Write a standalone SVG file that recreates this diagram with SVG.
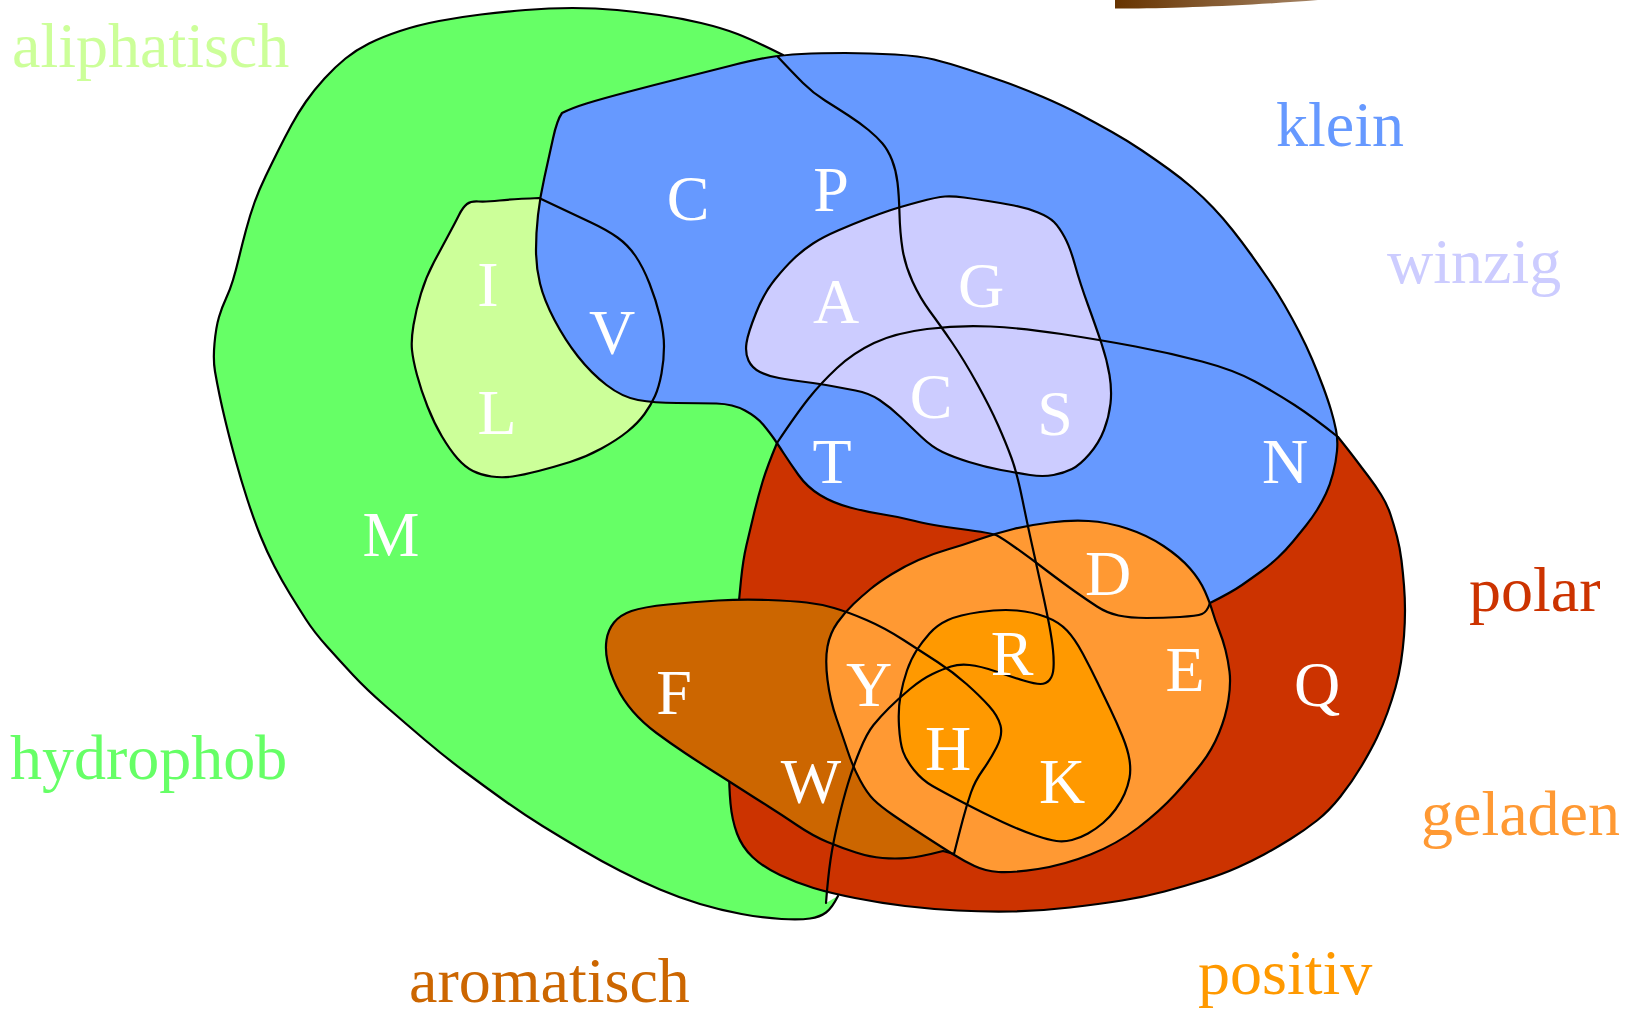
<svg xmlns="http://www.w3.org/2000/svg" width="1629" height="1009" viewBox="0 0 1629 1009">
  <defs>
    <style>
      .ln { fill: none; stroke: #000; stroke-width: 2.2; stroke-linejoin: round; stroke-linecap: round; }
      .lbl { font-family: "Liberation Serif", "Times New Roman", serif; font-size: 64px; }
      .aa { font-family: "Liberation Serif", "Times New Roman", serif; font-size: 64px; fill: #fff; text-anchor: middle; }
    </style>
    <linearGradient id="topShade" x1="1115" y1="0" x2="1318" y2="0" gradientUnits="userSpaceOnUse">
      <stop offset="0" stop-color="#663300"/>
      <stop offset="1" stop-color="#a58465"/>
    </linearGradient>
  </defs>

  <rect width="1629" height="1009" fill="#fff"/>

  <!-- partial shape cut by the top edge -->
  <path d="M1115,0 L1115,8.5 C1170,8.8 1250,5.5 1318,0 Z" fill="url(#topShade)"/>

  <!-- set: hydrophob -->
  <g id="hydrophob">
    <path fill="#66ff66" d="M783,55 Q753,40 737.5,34 Q722,28 701,23 Q680,18 659,15 Q638,12 617,10 Q596,8 572.5,8 Q549,8 525.5,10 Q502,12 481,14.5 Q460,17 439,21 Q418,25 400,31 Q382,37 369,43.5 Q356,50 345.5,58.5 Q335,67 324.5,78.5 Q314,90 306,101.5 Q298,113 291.5,125 Q285,137 278.5,150 Q272,163 265.5,176.5 Q259,190 254.5,202.5 Q250,215 246,230 Q242,245 239,257.5 Q236,270 233,280 Q230,290 226,298.5 Q222,307 219,317 Q216,327 214.5,343.5 Q213,360 215,371.5 Q217,383 219.5,395 Q222,407 226,423.5 Q230,440 235.5,460 Q241,480 247.5,500 Q254,520 260.5,536 Q267,552 274.5,566.5 Q282,581 290,594 Q298,607 306,619.5 Q314,632 327,646.5 Q340,661 353,675 Q366,689 385.5,706 Q405,723 425,740 Q445,757 464.5,771.5 Q484,786 503.5,800 Q523,814 542.5,826 Q562,838 581.5,849.5 Q601,861 620.5,871 Q640,881 660,889.5 Q680,898 700,904 Q720,910 741.5,914 Q763,918 781.5,919 Q800,920 810,918.5 Q820,917 826,912.5 Q832,908 838,896 L826,903 Q828,877 830.5,860 Q833,843 838,821.5 Q843,800 848,783.5 Q853,767 860,750 Q867,733 873.5,725 Q880,717 889,708 Q898,699 910,689 Q922,679 932.5,674 Q943,669 951,666.5 Q959,664 969.5,665 Q980,666 996,671.5 Q1012,677 1023.5,680.5 Q1035,684 1040.5,684 Q1046,684 1049.5,680 Q1053,676 1053.5,668 Q1054,660 1053,650 Q1052,640 1049.5,626.5 Q1047,613 1042,590 Q1037,567 1032.5,547 Q1028,527 1022.5,500 Q1017,473 1011.5,458 Q1006,443 998,425 Q990,407 977,383.5 Q964,360 952,342.5 Q940,325 930,311.5 Q920,298 912.5,281.5 Q905,265 902.5,249 Q900,233 899.5,214 Q899,195 897.5,182.5 Q896,170 892,160 Q888,150 882.5,143.5 Q877,137 868.5,130 Q860,123 848.5,115.5 Q837,108 825,100.5 Q813,93 803,83 Q793,73 778,57 Z"/>
    <path class="ln" d="M783,55 Q753,40 737.5,34 Q722,28 701,23 Q680,18 659,15 Q638,12 617,10 Q596,8 572.5,8 Q549,8 525.5,10 Q502,12 481,14.5 Q460,17 439,21 Q418,25 400,31 Q382,37 369,43.5 Q356,50 345.5,58.5 Q335,67 324.5,78.5 Q314,90 306,101.5 Q298,113 291.5,125 Q285,137 278.5,150 Q272,163 265.5,176.5 Q259,190 254.5,202.5 Q250,215 246,230 Q242,245 239,257.5 Q236,270 233,280 Q230,290 226,298.5 Q222,307 219,317 Q216,327 214.5,343.5 Q213,360 215,371.5 Q217,383 219.5,395 Q222,407 226,423.5 Q230,440 235.5,460 Q241,480 247.5,500 Q254,520 260.5,536 Q267,552 274.5,566.5 Q282,581 290,594 Q298,607 306,619.5 Q314,632 327,646.5 Q340,661 353,675 Q366,689 385.5,706 Q405,723 425,740 Q445,757 464.5,771.5 Q484,786 503.5,800 Q523,814 542.5,826 Q562,838 581.5,849.5 Q601,861 620.5,871 Q640,881 660,889.5 Q680,898 700,904 Q720,910 741.5,914 Q763,918 781.5,919 Q800,920 810,918.5 Q820,917 826,912.5 Q832,908 838,896"/>
    <text class="lbl" x="10" y="779" fill="#66ff66">hydrophob</text>
  </g>

  <!-- set: aliphatisch -->
  <g id="aliphatisch">
    <path fill="#ccff99" d="M539,198 Q575,215 591,222.5 Q607,230 617.5,237.5 Q628,245 635.5,256 Q643,267 649.5,283.5 Q656,300 660,316.5 Q664,333 664,346.5 Q664,360 661.5,373.5 Q659,387 655,396 Q651,405 644.5,414 Q638,423 627.5,431.5 Q617,440 601.5,448.5 Q586,457 570,462 Q554,467 538.5,471 Q523,475 512.5,476.5 Q502,478 491.5,476.5 Q481,475 473,471 Q465,467 457.5,458.5 Q450,450 442,436.5 Q434,423 427.5,406.5 Q421,390 417,375 Q413,360 412,350 Q411,340 413.5,325 Q416,310 421,293.5 Q426,277 434,262 Q442,247 448.5,235 Q455,223 459,215 Q463,207 467,204 Q471,201 478.5,201.5 Q486,202 499.5,200.5 Q513,199 539,198 Z"/>
    <text class="lbl" x="12" y="67" fill="#ccff99">aliphatisch</text>
  </g>

  <!-- set: polar -->
  <g id="polar">
    <path fill="#cc3300" stroke="#000" stroke-width="2.2" stroke-linejoin="round" d="M777,443 Q767,467 762.5,482 Q758,497 754,513.5 Q750,530 746.5,545 Q743,560 741,580 Q739,600 737,622.5 Q735,645 733,670 Q731,695 730,720 Q729,745 729,766 Q729,787 730.5,803.5 Q732,820 737,833.5 Q742,847 752.5,857 Q763,867 780,875 Q797,883 813.5,888 Q830,893 855,898 Q880,903 905,906 Q930,909 957.5,910.5 Q985,912 1012.5,911.5 Q1040,911 1070,907.5 Q1100,904 1122,900.5 Q1144,897 1164.5,891.5 Q1185,886 1204,880 Q1223,874 1237.5,867.5 Q1252,861 1264,854.5 Q1276,848 1290.5,839 Q1305,830 1317,820.5 Q1329,811 1340.5,796.5 Q1352,782 1361.5,766 Q1371,750 1377,737.5 Q1383,725 1387.5,712.5 Q1392,700 1395.5,687.5 Q1399,675 1401,662 Q1403,649 1404,636 Q1405,623 1405,610.5 Q1405,598 1404,585.5 Q1403,573 1401.5,560.5 Q1400,548 1397,536.5 Q1394,525 1390.5,514.5 Q1387,504 1381,494.5 Q1375,485 1368.5,476.5 Q1362,468 1356,460 Q1350,452 1338,437 Q1313,417 1294.5,405 Q1276,393 1255,381.5 Q1234,370 1202,361.5 Q1170,353 1135.5,346.5 Q1101,340 1061.5,334 Q1022,328 990.5,326.5 Q959,325 927,329 Q895,333 874,343 Q853,353 837,368 Q821,383 809,398 Q797,413 777,443 Z"/>
    <text class="lbl" x="1469" y="611" fill="#cc3300">polar</text>
  </g>

  <!-- set: klein -->
  <g id="klein">
    <path fill="#6699ff" d="M562,113 Q572,108 586.5,103.5 Q601,99 627.5,92 Q654,85 680,78.5 Q706,72 729.5,66 Q753,60 768,57.5 Q783,55 801.5,54 Q820,53 845,53 Q870,53 895,54.5 Q920,56 934,59.5 Q948,63 966.5,69 Q985,75 1003.5,81.5 Q1022,88 1043,97 Q1064,106 1080,114.5 Q1096,123 1112,132 Q1128,141 1142,150.5 Q1156,160 1168.5,169 Q1181,178 1192,187.5 Q1203,197 1213,207.5 Q1223,218 1232.5,230 Q1242,242 1251,254.5 Q1260,267 1268.5,279.5 Q1277,292 1284.5,305 Q1292,318 1299,331.5 Q1306,345 1312,359 Q1318,373 1323,386.5 Q1328,400 1331,410 Q1334,420 1336,430 Q1338,440 1337,451 Q1336,462 1333,473.5 Q1330,485 1326,493.5 Q1322,502 1317,510 Q1312,518 1306,525.5 Q1300,533 1293,541.5 Q1286,550 1278,557.5 Q1270,565 1261,571.5 Q1252,578 1242,585 Q1232,592 1210,603 Q1207,612 1202,614 Q1197,616 1180,617 Q1163,618 1146.5,618 Q1130,618 1118.5,615.5 Q1107,613 1097,606.5 Q1087,600 1075,591.5 Q1063,583 1046.5,570.5 Q1030,558 1016,548 Q1002,538 997,535.5 Q992,533 961,529 Q930,525 915,521 Q900,517 883.5,514.5 Q867,512 850,507.5 Q833,503 820,495 Q807,487 798.5,475 Q790,463 783.5,453 Q777,443 773.5,438 Q770,433 763.5,425 Q757,417 745,410.5 Q733,404 716.5,403.5 Q700,403 677,403 Q654,403 638,400 Q622,397 606.5,385 Q591,373 578,356.5 Q565,340 554.5,320 Q544,300 540,283.5 Q536,267 536,250 Q536,233 538,215 Q540,197 544.5,177 Q549,157 553,138.5 Q557,120 562,113 Z"/>
    <text class="lbl" x="1276" y="146" fill="#6699ff">klein</text>
  </g>

  <!-- set: winzig -->
  <g id="winzig">
    <path fill="#ccccff" d="M746.5,343 Q748,333 756,313 Q764,293 774.5,280 Q785,267 794,258.5 Q803,250 813,243.5 Q823,237 838,230.5 Q853,224 866,219 Q879,214 889.5,210.5 Q900,207 918.5,202 Q937,197 945,196.5 Q953,196 964,197.5 Q975,199 988,201 Q1001,203 1014,205.5 Q1027,208 1038,212.5 Q1049,217 1054,222 Q1059,227 1064.5,237 Q1070,247 1075,265 Q1080,283 1088,305 Q1096,327 1101.5,343.5 Q1107,360 1109.5,375 Q1112,390 1110.5,403.5 Q1109,417 1104,430 Q1099,443 1089.5,454 Q1080,465 1072,469 Q1064,473 1053.5,475 Q1043,477 1030,475 Q1017,473 1001,470 Q985,467 969,462 Q953,457 942.5,452 Q932,447 921.5,437 Q911,427 900.5,417 Q890,407 879.5,400 Q869,393 855.5,390.5 Q842,388 831.5,386 Q821,384 805.5,382 Q790,380 779,378 Q768,376 760,372 Q752,368 748.5,360.5 Q745,353 746.5,343 Z"/>
    <text class="lbl" x="1387" y="283" fill="#ccccff">winzig</text>
  </g>

  <!-- set: aromatisch -->
  <g id="aromatisch">
    <path fill="#cc6600" d="M943,851 Q920,857 907.5,858 Q895,859 882.5,858 Q870,857 856,852.5 Q842,848 827.5,842 Q813,836 797.5,825.5 Q782,815 768.5,806.5 Q755,798 741,789 Q727,780 713.5,771.5 Q700,763 685,753 Q670,743 656.5,733 Q643,723 633,711.5 Q623,700 616.5,686.5 Q610,673 607.5,661.5 Q605,650 606.5,640 Q608,630 614,622.5 Q620,615 631.5,611 Q643,607 668,604.5 Q693,602 718,600.5 Q743,599 768,600 Q793,601 806.5,602.5 Q820,604 834,608 Q848,612 866.5,620 Q885,628 903.5,640 Q922,652 937.5,662 Q953,672 966.5,684 Q980,696 989,706 Q998,716 1000.5,725.5 Q1003,735 996.5,747.5 Q990,760 982.5,770.5 Q975,781 971,792.5 Q967,804 963,819 Q959,834 954,854 Z"/>
    <text class="lbl" x="409" y="1002" fill="#cc6600">aromatisch</text>
  </g>

  <!-- set: geladen -->
  <g id="geladen">
    <path fill="#ff9933" d="M837.5,622.5 Q845,612 853.5,604 Q862,596 870.5,589 Q879,582 892,574 Q905,566 918.5,560 Q932,554 947.5,549.5 Q963,545 980,539 Q997,533 1013.5,529 Q1030,525 1050,522.5 Q1070,520 1088.5,521 Q1107,522 1127,528.5 Q1147,535 1163.5,546 Q1180,557 1190,568.5 Q1200,580 1205,591.5 Q1210,603 1212.5,611.5 Q1215,620 1219,630 Q1223,640 1225.5,650 Q1228,660 1229.5,671.5 Q1231,683 1228.5,699.5 Q1226,716 1219,733 Q1212,750 1201.5,763.5 Q1191,777 1175.5,794 Q1160,811 1138.5,827.5 Q1117,844 1090.5,854.5 Q1064,865 1038,869 Q1012,873 998.5,872 Q985,871 974.5,866 Q964,861 953.5,854.5 Q943,848 924.5,836 Q906,824 893,815 Q880,806 873.5,799.5 Q867,793 860,780 Q853,767 848,752 Q843,737 836.5,718.5 Q830,700 827.5,680 Q825,660 827.5,646.5 Q830,633 837.5,622.5 Z"/>
    <text class="lbl" x="1421" y="835" fill="#ff9933">geladen</text>
  </g>

  <!-- set: positiv -->
  <g id="positiv">
    <path fill="#ff9900" d="M948,620 Q959,615 980,612 Q1001,609 1017,610.5 Q1033,612 1046,617 Q1059,622 1067,630.5 Q1075,639 1083,654 Q1091,669 1097.5,682.5 Q1104,696 1110.5,709.5 Q1117,723 1122.5,736.5 Q1128,750 1129.5,760 Q1131,770 1129.5,778 Q1128,786 1124.5,794 Q1121,802 1115.5,809.5 Q1110,817 1103,823 Q1096,829 1088,833.5 Q1080,838 1072,840 Q1064,842 1056.5,841 Q1049,840 1035.5,835.5 Q1022,831 1003.5,822.5 Q985,814 964,803 Q943,792 932.5,786 Q922,780 914,770 Q906,760 903,751.5 Q900,743 899,726 Q898,709 900.5,695.5 Q903,682 907,670.5 Q911,659 916.5,650.5 Q922,642 929.5,633.5 Q937,625 948,620 Z"/>
    <text class="lbl" x="1198" y="994" fill="#ff9900">positiv</text>
  </g>

  <!-- outlines drawn over all fills -->
  <g id="outlines" class="ln">
    <!-- hydrophob inner boundary -->
    <path d="M778,57 Q793,73 803,83 Q813,93 825,100.5 Q837,108 848.5,115.5 Q860,123 868.5,130 Q877,137 882.5,143.5 Q888,150 892,160 Q896,170 897.5,182.5 Q899,195 899.5,214 Q900,233 902.5,249 Q905,265 912.5,281.5 Q920,298 930,311.5 Q940,325 952,342.5 Q964,360 977,383.5 Q990,407 998,425 Q1006,443 1011.5,458 Q1017,473 1022.5,500 Q1028,527 1032.5,547 Q1037,567 1042,590 Q1047,613 1049.5,626.5 Q1052,640 1053,650 Q1054,660 1053.5,668 Q1053,676 1049.5,680 Q1046,684 1040.5,684 Q1035,684 1023.5,680.5 Q1012,677 996,671.5 Q980,666 969.5,665 Q959,664 951,666.5 Q943,669 932.5,674 Q922,679 910,689 Q898,699 889,708 Q880,717 873.5,725 Q867,733 860,750 Q853,767 848,783.5 Q843,800 838,821.5 Q833,843 830.5,860 Q828,877 826,903"/>
    <!-- aliphatisch -->
    <path d="M539,198 Q575,215 591,222.5 Q607,230 617.5,237.5 Q628,245 635.5,256 Q643,267 649.5,283.5 Q656,300 660,316.5 Q664,333 664,346.5 Q664,360 661.5,373.5 Q659,387 655,396 Q651,405 644.5,414 Q638,423 627.5,431.5 Q617,440 601.5,448.5 Q586,457 570,462 Q554,467 538.5,471 Q523,475 512.5,476.5 Q502,478 491.5,476.5 Q481,475 473,471 Q465,467 457.5,458.5 Q450,450 442,436.5 Q434,423 427.5,406.5 Q421,390 417,375 Q413,360 412,350 Q411,340 413.5,325 Q416,310 421,293.5 Q426,277 434,262 Q442,247 448.5,235 Q455,223 459,215 Q463,207 467,204 Q471,201 478.5,201.5 Q486,202 499.5,200.5 Q513,199 539,198 Z"/>
    <!-- polar upper boundary -->
    <path d="M1338,437 Q1313,417 1294.5,405 Q1276,393 1255,381.5 Q1234,370 1202,361.5 Q1170,353 1135.5,346.5 Q1101,340 1061.5,334 Q1022,328 990.5,326.5 Q959,325 927,329 Q895,333 874,343 Q853,353 837,368 Q821,383 809,398 Q797,413 777,443"/>
    <!-- klein -->
    <path d="M562,113 Q572,108 586.5,103.5 Q601,99 627.5,92 Q654,85 680,78.5 Q706,72 729.5,66 Q753,60 768,57.5 Q783,55 801.5,54 Q820,53 845,53 Q870,53 895,54.5 Q920,56 934,59.5 Q948,63 966.5,69 Q985,75 1003.5,81.5 Q1022,88 1043,97 Q1064,106 1080,114.5 Q1096,123 1112,132 Q1128,141 1142,150.5 Q1156,160 1168.5,169 Q1181,178 1192,187.5 Q1203,197 1213,207.5 Q1223,218 1232.5,230 Q1242,242 1251,254.5 Q1260,267 1268.5,279.5 Q1277,292 1284.5,305 Q1292,318 1299,331.5 Q1306,345 1312,359 Q1318,373 1323,386.5 Q1328,400 1331,410 Q1334,420 1336,430 Q1338,440 1337,451 Q1336,462 1333,473.5 Q1330,485 1326,493.5 Q1322,502 1317,510 Q1312,518 1306,525.5 Q1300,533 1293,541.5 Q1286,550 1278,557.5 Q1270,565 1261,571.5 Q1252,578 1242,585 Q1232,592 1210,603 Q1207,612 1202,614 Q1197,616 1180,617 Q1163,618 1146.5,618 Q1130,618 1118.5,615.5 Q1107,613 1097,606.5 Q1087,600 1075,591.5 Q1063,583 1046.5,570.5 Q1030,558 1016,548 Q1002,538 997,535.5 Q992,533 961,529 Q930,525 915,521 Q900,517 883.5,514.5 Q867,512 850,507.5 Q833,503 820,495 Q807,487 798.5,475 Q790,463 783.5,453 Q777,443 773.5,438 Q770,433 763.5,425 Q757,417 745,410.5 Q733,404 716.5,403.5 Q700,403 677,403 Q654,403 638,400 Q622,397 606.5,385 Q591,373 578,356.5 Q565,340 554.5,320 Q544,300 540,283.5 Q536,267 536,250 Q536,233 538,215 Q540,197 544.5,177 Q549,157 553,138.5 Q557,120 562,113 Z"/>
    <!-- winzig -->
    <path d="M746.5,343 Q748,333 756,313 Q764,293 774.5,280 Q785,267 794,258.5 Q803,250 813,243.5 Q823,237 838,230.5 Q853,224 866,219 Q879,214 889.5,210.5 Q900,207 918.5,202 Q937,197 945,196.5 Q953,196 964,197.5 Q975,199 988,201 Q1001,203 1014,205.5 Q1027,208 1038,212.5 Q1049,217 1054,222 Q1059,227 1064.5,237 Q1070,247 1075,265 Q1080,283 1088,305 Q1096,327 1101.5,343.5 Q1107,360 1109.5,375 Q1112,390 1110.5,403.5 Q1109,417 1104,430 Q1099,443 1089.5,454 Q1080,465 1072,469 Q1064,473 1053.5,475 Q1043,477 1030,475 Q1017,473 1001,470 Q985,467 969,462 Q953,457 942.5,452 Q932,447 921.5,437 Q911,427 900.5,417 Q890,407 879.5,400 Q869,393 855.5,390.5 Q842,388 831.5,386 Q821,384 805.5,382 Q790,380 779,378 Q768,376 760,372 Q752,368 748.5,360.5 Q745,353 746.5,343 Z"/>
    <!-- aromatisch -->
    <path d="M943,851 Q920,857 907.5,858 Q895,859 882.5,858 Q870,857 856,852.5 Q842,848 827.5,842 Q813,836 797.5,825.5 Q782,815 768.5,806.5 Q755,798 741,789 Q727,780 713.5,771.5 Q700,763 685,753 Q670,743 656.5,733 Q643,723 633,711.5 Q623,700 616.5,686.5 Q610,673 607.5,661.5 Q605,650 606.5,640 Q608,630 614,622.5 Q620,615 631.5,611 Q643,607 668,604.5 Q693,602 718,600.5 Q743,599 768,600 Q793,601 806.5,602.5 Q820,604 834,608 Q848,612 866.5,620 Q885,628 903.5,640 Q922,652 937.5,662 Q953,672 966.5,684 Q980,696 989,706 Q998,716 1000.5,725.5 Q1003,735 996.5,747.5 Q990,760 982.5,770.5 Q975,781 971,792.5 Q967,804 963,819 Q959,834 954,854 L943,851"/>
    <!-- geladen -->
    <path d="M837.5,622.5 Q845,612 853.5,604 Q862,596 870.5,589 Q879,582 892,574 Q905,566 918.5,560 Q932,554 947.5,549.5 Q963,545 980,539 Q997,533 1013.5,529 Q1030,525 1050,522.5 Q1070,520 1088.5,521 Q1107,522 1127,528.5 Q1147,535 1163.5,546 Q1180,557 1190,568.5 Q1200,580 1205,591.5 Q1210,603 1212.5,611.5 Q1215,620 1219,630 Q1223,640 1225.5,650 Q1228,660 1229.5,671.5 Q1231,683 1228.5,699.5 Q1226,716 1219,733 Q1212,750 1201.5,763.5 Q1191,777 1175.5,794 Q1160,811 1138.5,827.5 Q1117,844 1090.5,854.5 Q1064,865 1038,869 Q1012,873 998.5,872 Q985,871 974.5,866 Q964,861 953.5,854.5 Q943,848 924.5,836 Q906,824 893,815 Q880,806 873.5,799.5 Q867,793 860,780 Q853,767 848,752 Q843,737 836.5,718.5 Q830,700 827.5,680 Q825,660 827.5,646.5 Q830,633 837.5,622.5 Z"/>
    <!-- positiv -->
    <path d="M948,620 Q959,615 980,612 Q1001,609 1017,610.5 Q1033,612 1046,617 Q1059,622 1067,630.5 Q1075,639 1083,654 Q1091,669 1097.5,682.5 Q1104,696 1110.5,709.5 Q1117,723 1122.5,736.5 Q1128,750 1129.5,760 Q1131,770 1129.5,778 Q1128,786 1124.5,794 Q1121,802 1115.5,809.5 Q1110,817 1103,823 Q1096,829 1088,833.5 Q1080,838 1072,840 Q1064,842 1056.5,841 Q1049,840 1035.5,835.5 Q1022,831 1003.5,822.5 Q985,814 964,803 Q943,792 932.5,786 Q922,780 914,770 Q906,760 903,751.5 Q900,743 899,726 Q898,709 900.5,695.5 Q903,682 907,670.5 Q911,659 916.5,650.5 Q922,642 929.5,633.5 Q937,625 948,620 Z"/>
  </g>

  <!-- amino acid one-letter codes -->
  <g id="residues" class="aa">
    <text x="688" y="220">C</text>
    <text x="831" y="211">P</text>
    <text x="488" y="306">I</text>
    <text x="612" y="354">V</text>
    <text x="836" y="323">A</text>
    <text x="981" y="307">G</text>
    <text x="497" y="434">L</text>
    <text x="931" y="418">C</text>
    <text x="1055" y="435">S</text>
    <text x="832" y="483">T</text>
    <text x="1285" y="483">N</text>
    <text x="391" y="556">M</text>
    <text x="1108" y="595">D</text>
    <text x="1012" y="675">R</text>
    <text x="1185" y="691">E</text>
    <text x="1317" y="706">Q</text>
    <text x="674" y="714">F</text>
    <text x="869" y="706">Y</text>
    <text x="948" y="770">H</text>
    <text x="811" y="803">W</text>
    <text x="1062" y="803">K</text>
  </g>
</svg>
